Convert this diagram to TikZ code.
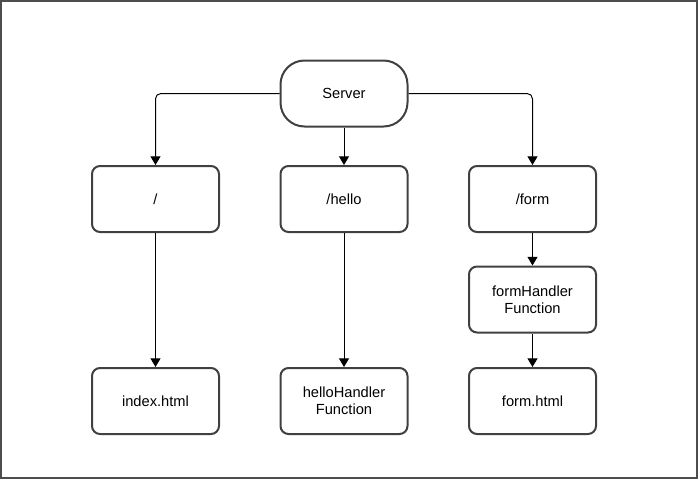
\documentclass[tikz,border=0pt]{standalone}
\usepackage{fontspec}
\setmainfont{Liberation Sans}
\usetikzlibrary{arrows.meta}
\definecolor{edgegray}{HTML}{4D4D4D}
\definecolor{boxgray}{HTML}{404040}
\begin{document}
\begin{tikzpicture}[x=0.75pt,y=-0.75pt,
    box/.style={draw=boxgray, line width=1.5pt, rounded corners=6pt, minimum width=95.25pt, minimum height=49.5pt, align=center, font=\fontsize{11}{12.5}\selectfont},
    link/.style={-{Triangle[width=7.5pt,length=6.5pt]}, line width=0.75pt}]
        \useasboundingbox (0,0) rectangle (698,479);
        \draw[edgegray, line width=1.5pt] (1,1) rectangle (697,478);

        \node[box, rounded corners=18pt] (server) at (344,93.5) {Server};

        % routes
        \node[box] (root) at (155.5,199) {/};
        \node[box] (hello) at (344,199) {/hello};
        \node[box] (form) at (532.5,199) {/form};

        \node[box] (formfn) at (532.5,299.5) {formHandler\\Function};

        % pages
        \node[box] (index) at (155.5,401) {index.html};
        \node[box] (hellofn) at (344,401) {helloHandler\\Function};
        \node[box] (formhtml) at (532.5,401) {form.html};

        \draw[link, rounded corners=4pt] (server.west) -| (root.north);
        \draw[link] (server) -- (hello);
        \draw[link, rounded corners=4pt] (server.east) -| (form.north);

        \draw[link] (root) -- (index);
        \draw[link] (hello) -- (hellofn);
        \draw[link] (form) -- (formfn);
        \draw[link] (formfn) -- (formhtml);
    \end{tikzpicture}
\end{document}
